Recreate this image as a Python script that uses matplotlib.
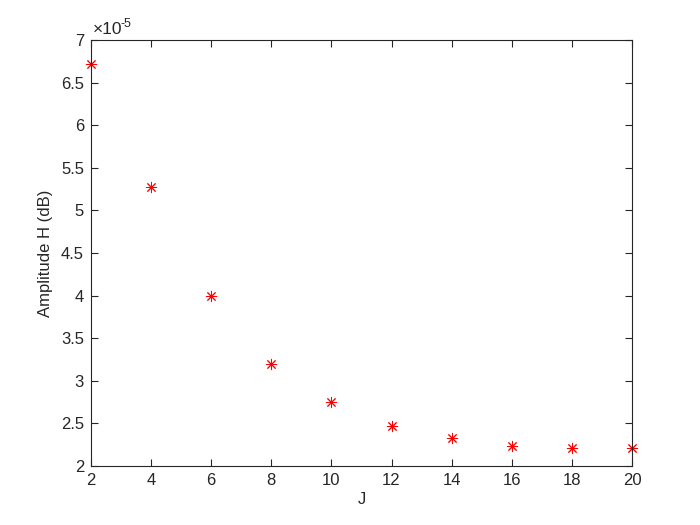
import matplotlib
matplotlib.use("Agg")
import matplotlib.pyplot as plt
from matplotlib.ticker import FuncFormatter

J = [2, 4, 6, 8, 10, 12, 14, 16, 18, 20]
H = [6.72e-5, 5.28e-5, 3.99e-5, 3.20e-5, 2.75e-5, 2.47e-5, 2.33e-5, 2.23e-5, 2.21e-5, 2.21e-5]
xticks = [2, 4, 6, 8, 10, 12, 14, 16, 18, 20]
yticks = [2e-5, 2.5e-5, 3e-5, 3.5e-5, 4e-5, 4.5e-5, 5e-5, 5.5e-5, 6e-5, 6.5e-5, 7e-5]

plt.rcParams['font.family'] = ['Liberation Sans', 'DejaVu Sans']
txt = '#262626'

fig = plt.figure(figsize=(7, 5.25), dpi=100)
ax = fig.add_axes([91/700, 1-466/525, (632-91)/700, (466-40)/525])
ax.plot(J, H, linestyle='none', marker=(8, 2, 0), markersize=8, markeredgewidth=0.7,
        color='red', clip_on=False)
ax.set_xlim(2, 20)
ax.set_ylim(2e-5, 7e-5)
ax.set_xticks(xticks)
ax.set_yticks(yticks)
ax.yaxis.set_major_formatter(FuncFormatter(lambda v, p: ('%g' % round(v / 1e-5, 6))))
ax.tick_params(direction='in', top=True, right=True, length=5, width=0.8,
               labelsize=12, colors=txt, pad=5)
for s in ax.spines.values():
    s.set_color(txt)
    s.set_linewidth(0.8)
ax.set_xlabel('J', fontsize=12, color=txt, labelpad=3)
ax.set_ylabel('Amplitude H (dB)', fontsize=12, color=txt, labelpad=6)
ax.annotate('\u00d710', xy=(0.0, 1.0), xycoords='axes fraction', xytext=(1, 2),
            textcoords='offset points', fontsize=12.5, color=txt, ha='left', va='bottom')
ax.annotate('-5', xy=(0.0, 1.0), xycoords='axes fraction', xytext=(21.5, 7),
            textcoords='offset points', fontsize=9, color=txt, ha='left', va='bottom')
fig.savefig('out.png', dpi=100)
